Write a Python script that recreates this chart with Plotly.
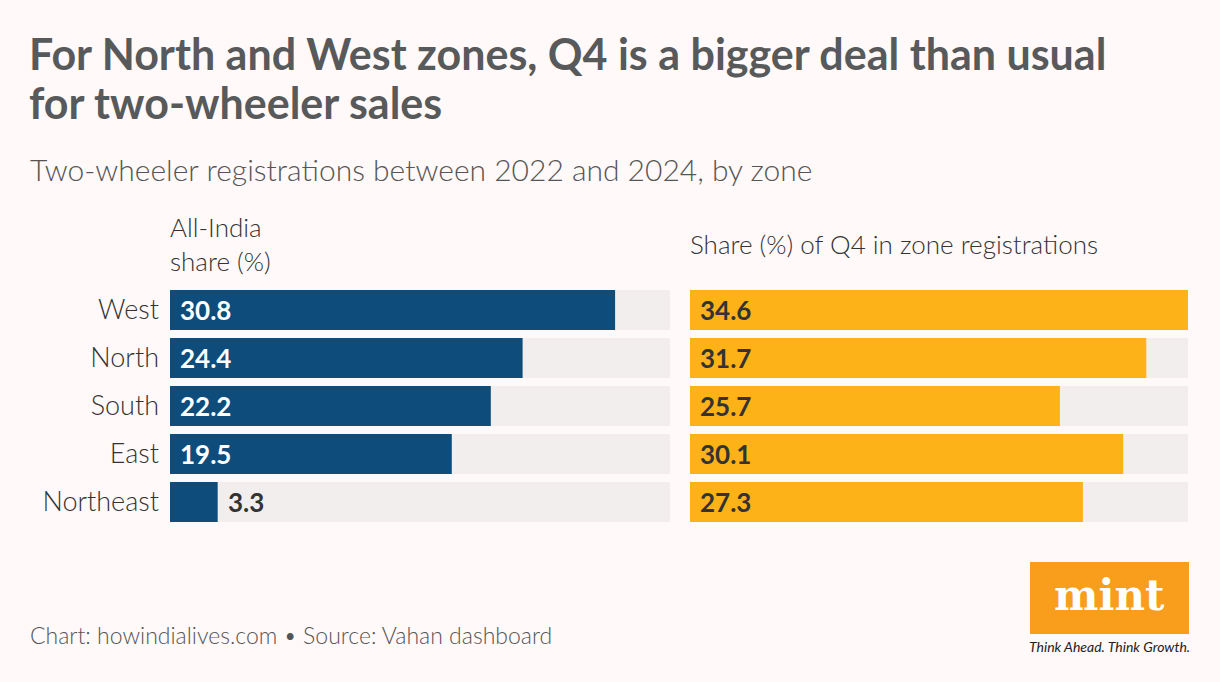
import plotly.graph_objects as go

zones = ["West", "North", "South", "East", "Northeast"]
india_share = [30.8, 24.4, 22.2, 19.5, 3.3]
q4_share = [34.6, 31.7, 25.7, 30.1, 27.3]

title_l1 = "For North and West zones, Q4 is a bigger deal than usual"
title_l2 = "for two-wheeler sales"
subtitle = "Two-wheeler registrations between 2022 and 2024, by zone"
head_left = "All-India<br>share (%)"
head_right = "Share (%) of Q4 in zone registrations"
footer = "Chart: howindialives.com \u2022 Source: Vahan dashboard"

W, H = 1220, 682
BG = "#fff9f9"
TRACK = "#f2eeee"
BLUE = "#0d4c7b"
YELLOW = "#fdb317"
TXT = "#333333"
FONT = "Lato"


def px(x):
    return x / W


def py(y):
    return 1 - y / H


vmax = max(max(india_share), max(q4_share))
track = [vmax] * len(zones)

fig = go.Figure()
for xa, ya, vals, col in [("x", "y", india_share, BLUE), ("x2", "y2", q4_share, YELLOW)]:
    fig.add_trace(go.Bar(y=zones, x=track, orientation="h", marker=dict(color=TRACK, line=dict(width=0)),
                         xaxis=xa, yaxis=ya, hoverinfo="skip", showlegend=False))
    fig.add_trace(go.Bar(y=zones, x=vals, orientation="h", marker=dict(color=col, line=dict(width=0)),
                         xaxis=xa, yaxis=ya, showlegend=False))

annotations = []
# value labels
for z, v in zip(zones, india_share):
    inside = v > 6
    annotations.append(dict(x=0 if inside else v, y=z, xref="x", yref="y", xanchor="left", yanchor="middle",
                            xshift=8, showarrow=False, text="<b>%.1f</b>" % v,
                            font=dict(family=FONT, size=26, color="white" if inside else TXT)))
for z, v in zip(zones, q4_share):
    annotations.append(dict(x=0, y=z, xref="x2", yref="y2", xanchor="left", yanchor="middle",
                            xshift=8, showarrow=False, text="<b>%.1f</b>" % v,
                            font=dict(family=FONT, size=26, color=TXT)))

annotations += [
    dict(x=px(27), y=py(53), text="<b>" + title_l1 + "</b>", xanchor="left", yanchor="middle",
         font=dict(family=FONT, size=43, color="#58595b")),
    dict(x=px(27), y=py(103), text="<b>" + title_l2 + "</b>", xanchor="left", yanchor="middle",
         font=dict(family=FONT, size=43, color="#58595b")),
    dict(x=px(28), y=py(169), text=subtitle, xanchor="left", yanchor="middle",
         font=dict(family=FONT, size=30, color="#555555", weight=300)),
    dict(x=px(168), y=py(244), text=head_left, xanchor="left", yanchor="middle", align="left",
         font=dict(family=FONT, size=26, color=TXT, weight=300)),
    dict(x=px(688), y=py(244), text=head_right, xanchor="left", yanchor="middle", align="left",
         font=dict(family=FONT, size=26, color=TXT, weight=300)),
    dict(x=px(28), y=py(635), text=footer, xanchor="left", yanchor="middle",
         font=dict(family=FONT, size=23, color="#555555", weight=300)),
    dict(x=px(1109.5), y=py(595), text="<b>mint</b>", xanchor="center", yanchor="middle",
         font=dict(family="DejaVu Serif", size=42, color="white")),
    dict(x=px(1109.5), y=py(646), text="<i>Think Ahead. Think Growth.</i>", xanchor="center", yanchor="middle",
         font=dict(family=FONT, size=14, color="#222222")),
]
for a in annotations:
    if a.get("xref") is None:
        a["xref"] = "paper"
        a["yref"] = "paper"
        a["showarrow"] = False

fig.update_layout(
    width=W, height=H, margin=dict(l=0, r=0, t=0, b=0),
    paper_bgcolor=BG, plot_bgcolor=BG,
    barmode="overlay", bargap=8 / 48,
    annotations=annotations,
    shapes=[dict(type="rect", xref="paper", yref="paper", x0=px(1030), x1=px(1189), y0=py(634), y1=py(562),
                 fillcolor="#f99d1c", line=dict(width=0), layer="below")],
    xaxis=dict(domain=[px(170), px(670)], range=[0, vmax], visible=False, fixedrange=True),
    xaxis2=dict(domain=[px(690), px(1188)], range=[0, vmax], visible=False, fixedrange=True),
    yaxis=dict(domain=[py(526), py(286)], categoryorder="array", categoryarray=zones, autorange="reversed",
               showgrid=False, zeroline=False, showline=False, ticks="", ticklabelstandoff=10,
               tickfont=dict(family=FONT, size=27, color=TXT, weight=300), anchor="x"),
    yaxis2=dict(domain=[py(526), py(286)], categoryorder="array", categoryarray=zones, autorange="reversed",
                showgrid=False, zeroline=False, showline=False, showticklabels=False, anchor="x2"),
)

fig.write_html("out.html")
